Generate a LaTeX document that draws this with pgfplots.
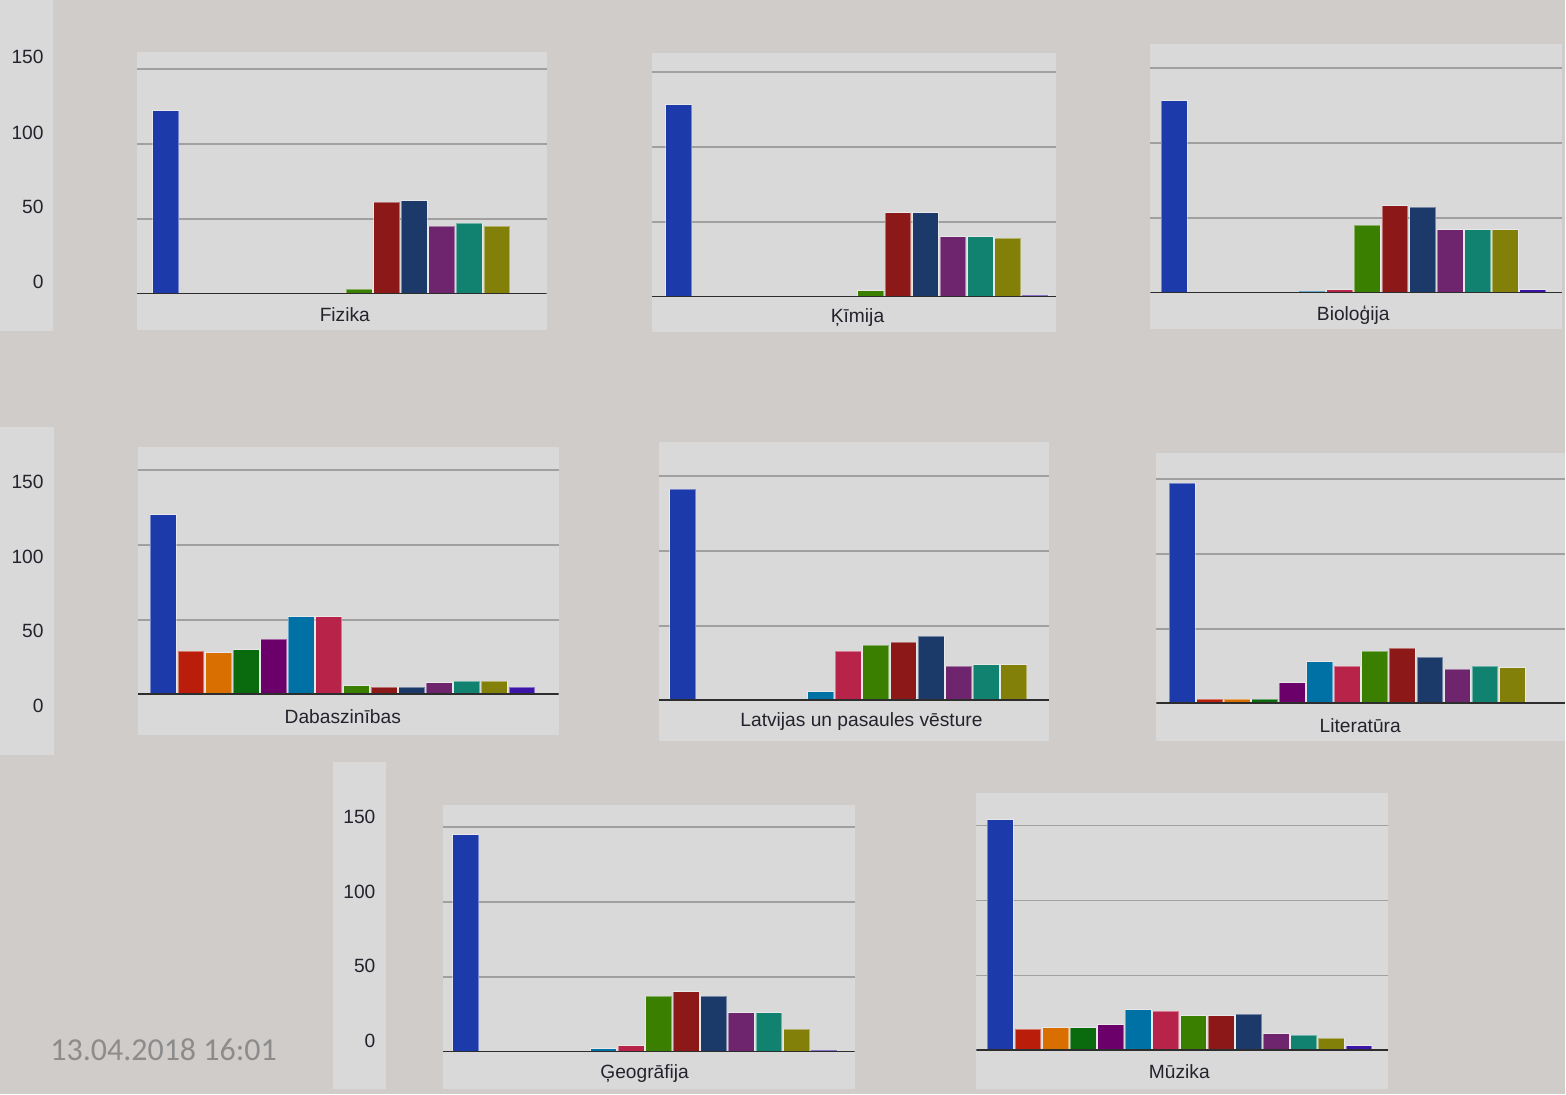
\documentclass[border=0pt]{standalone}
\usepackage{pgfplots}
\pgfplotsset{compat=1.18}
\usepackage{fontspec}
\setmainfont{Liberation Sans}
\newfontfamily\stampfont{Carlito}
\definecolor{bg}{RGB}{208,204,202}
\definecolor{panel}{RGB}{217,217,217}
\definecolor{gridc}{RGB}{160,160,160}
\definecolor{basec}{RGB}{45,45,45}
\definecolor{txt}{RGB}{35,35,45}
\definecolor{c0}{RGB}{28,58,169}
\definecolor{c1}{RGB}{186,30,11}
\definecolor{c2}{RGB}{217,111,0}
\definecolor{c3}{RGB}{10,107,14}
\definecolor{c4}{RGB}{107,0,107}
\definecolor{c5}{RGB}{0,113,165}
\definecolor{c6}{RGB}{184,35,74}
\definecolor{c7}{RGB}{59,127,0}
\definecolor{c8}{RGB}{141,24,24}
\definecolor{c9}{RGB}{27,58,106}
\definecolor{c10}{RGB}{110,37,110}
\definecolor{c11}{RGB}{17,130,112}
\definecolor{c12}{RGB}{130,128,8}
\definecolor{c13}{RGB}{60,20,168}
\newcommand{\B}[3]{\addplot[ybar, bar shift=0pt, bar width=0.94, fill=#1] coordinates {(#2,#3)};}
\pgfplotsset{panel/.style={scale only axis, anchor=south west, ymin=0,
  ytick={50,100,150}, xtick=\empty, yticklabels={}, ymajorgrids,
  grid style={draw=gridc, line width=0.9pt}, axis line style={draw=none},
  major tick length=0pt,
  every axis plot/.append style={draw=white, draw opacity=0.4, line width=0.5pt}}}
\newcommand{\base}{\draw[basec, line width=1.2pt] (rel axis cs:0,0) -- (rel axis cs:1,0);}
\begin{document}
\begin{tikzpicture}
\begin{scope}[x=0.5pt,y=-0.5pt,yshift=547.5pt]
\fill[bg] (0,0) rectangle (1566,1095);
% panels
\fill[panel] (137,52) rectangle (547,330);
\fill[panel] (652,53) rectangle (1057,332);
\fill[panel] (1151,44) rectangle (1563,329);
\fill[panel] (138,447) rectangle (559,735);
\fill[panel] (659,442) rectangle (1050,741);
\fill[panel] (1157,453) rectangle (1566,741);
\fill[panel] (443,805) rectangle (855,1090);
\fill[panel] (977,793) rectangle (1389,1090);
% y label panels
\fill[panel] (0,0) rectangle (53,331);
\fill[panel] (0,427) rectangle (54,755);
\fill[panel] (333,762) rectangle (386,1090);
\begin{scope}[every node/.style={font=\fontsize{9.6}{11}\selectfont, text=txt, inner sep=0pt}]
\node[anchor=east] at (44,57) {150};
\node[anchor=east] at (44,133) {100};
\node[anchor=east] at (44,207) {50};
\node[anchor=east] at (44,282) {0};
\node[anchor=east] at (44,482) {150};
\node[anchor=east] at (44,557) {100};
\node[anchor=east] at (44,631) {50};
\node[anchor=east] at (44,706) {0};
\node[anchor=east] at (376,817) {150};
\node[anchor=east] at (376,892) {100};
\node[anchor=east] at (376,966) {50};
\node[anchor=east] at (376,1041) {0};
\node at (345,315) {Fizika};
\node at (858,318) {Ķīmija};
\node at (1354,315) {Bioloģija};
\node at (343,717) {Dabaszinības};
\node at (862,722) {Latvijas un pasaules vēsture};
\node at (1361,726) {Literatūra};
\node at (645,1074) {Ģeogrāfija};
\node at (1180,1072) {Mūzika};
\end{scope}
\node[anchor=west, inner sep=0pt, text=black!45, font=\stampfont\fontsize{16}{18}\selectfont] at (50,1050) {13.04.2018 16:01};
\end{scope}
% Fizika
\begin{axis}[panel, at={(68.5pt,400.5pt)}, width=205pt, height=121pt, xmin=-1.051, xmax=13.80, ymax=161.3]
\B{c0}{0}{122}
\B{c7}{7}{3}
\B{c8}{8}{61}
\B{c9}{9}{62}
\B{c10}{10}{45}
\B{c11}{11}{47}
\B{c12}{12}{45}
\base
\end{axis}
% Kimija
\begin{axis}[panel, at={(326pt,399pt)}, width=202.5pt, height=122pt, xmin=-0.983, xmax=13.77, ymax=162.7]
\B{c0}{0}{128}
\B{c7}{7}{4}
\B{c8}{8}{56}
\B{c9}{9}{56}
\B{c10}{10}{40}
\B{c11}{11}{40}
\B{c12}{12}{39}
\B{c13}{13}{1}
\base
\end{axis}
% Biologija
\begin{axis}[panel, at={(575.5pt,401pt)}, width=206pt, height=124.5pt, xmin=-0.87, xmax=14.06, ymax=166]
\B{c0}{0}{128}
\B{c5}{5}{1}
\B{c6}{6}{2}
\B{c7}{7}{45}
\B{c8}{8}{58}
\B{c9}{9}{57}
\B{c10}{10}{42}
\B{c11}{11}{42}
\B{c12}{12}{42}
\B{c13}{13}{2}
\base
\end{axis}
% Dabaszinibas
\begin{axis}[panel, at={(69pt,200pt)}, width=210.5pt, height=124pt, xmin=-0.924, xmax=14.33, ymax=165.3]
\B{c0}{0}{120}
\B{c1}{1}{29}
\B{c2}{2}{28}
\B{c3}{3}{30}
\B{c4}{4}{37}
\B{c5}{5}{52}
\B{c6}{6}{52}
\B{c7}{7}{6}
\B{c8}{8}{5}
\B{c9}{9}{5}
\B{c10}{10}{8}
\B{c11}{11}{9}
\B{c12}{12}{9}
\B{c13}{13}{5}
\base
\end{axis}
% Latvijas un pasaules vesture
\begin{axis}[panel, at={(329.5pt,197pt)}, width=195.5pt, height=129.5pt, xmin=-0.877, xmax=13.29, ymax=172.7]
\B{c0}{0}{141}
\B{c5}{5}{6}
\B{c6}{6}{33}
\B{c7}{7}{37}
\B{c8}{8}{39}
\B{c9}{9}{43}
\B{c10}{10}{23}
\B{c11}{11}{24}
\B{c12}{12}{24}
\base
\end{axis}
% Literatura
\begin{axis}[panel, at={(578.5pt,195.5pt)}, width=204.5pt, height=125.5pt, xmin=-0.937, xmax=13.91, ymax=167.3]
\B{c0}{0}{147}
\B{c1}{1}{3}
\B{c2}{2}{3}
\B{c3}{3}{3}
\B{c4}{4}{14}
\B{c5}{5}{28}
\B{c6}{6}{25}
\B{c7}{7}{35}
\B{c8}{8}{37}
\B{c9}{9}{31}
\B{c10}{10}{23}
\B{c11}{11}{25}
\B{c12}{12}{24}
\B{c13}{13}{1}
\base
\end{axis}
% Geografija
\begin{axis}[panel, at={(221.5pt,21.25pt)}, width=206pt, height=123.75pt, xmin=-0.826, xmax=14.10, ymax=165]
\B{c0}{0}{145}
\B{c5}{5}{2}
\B{c6}{6}{4}
\B{c7}{7}{37}
\B{c8}{8}{40}
\B{c9}{9}{37}
\B{c10}{10}{26}
\B{c11}{11}{26}
\B{c12}{12}{15}
\B{c13}{13}{1}
\base
\end{axis}
% Muzika
\begin{axis}[panel, at={(488.5pt,22pt)}, width=206pt, height=129pt, xmin=-0.87, xmax=14.06, ymax=172]
\B{c0}{0}{154}
\B{c1}{1}{14}
\B{c2}{2}{15}
\B{c3}{3}{15}
\B{c4}{4}{17}
\B{c5}{5}{27}
\B{c6}{6}{26}
\B{c7}{7}{23}
\B{c8}{8}{23}
\B{c9}{9}{24}
\B{c10}{10}{11}
\B{c11}{11}{10}
\B{c12}{12}{8}
\B{c13}{13}{3}
\base
\end{axis}
\end{tikzpicture}
\end{document}
